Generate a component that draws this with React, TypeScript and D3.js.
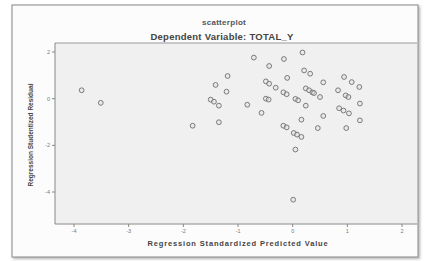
import React from "react";
import * as d3 from "d3";

// predicted values (x) and studentized residuals (y)
const predicted = [
  -3.86, -3.51, -0.71, -0.16, 0.18, -0.43, -1.19, 0.21, 0.32, -0.1,
  -0.49, -0.43, -0.31, 0.56, 0.94, 1.08, 1.22, -1.41, -1.21, 0.24,
  0.3, 0.36, 0.39, 0.5, 0.83, 0.97, 1.02, -0.17, -0.11, -0.49,
  -0.44, 0.05, 0.1, -1.5, -1.44, -1.35, -0.83, 0.24, 1.23, 0.85,
  0.93, 1.03, -0.57, 0.56, 0.16, 1.23, -1.35, -1.83, -0.17, -0.11,
  0.46, 0.98, 0.02, 0.08, 0.16, 0.05, 0.01,
];
const residuals = [
  0.36, -0.18, 1.76, 1.7, 1.98, 1.4, 0.97, 1.21, 1.07, 0.89,
  0.74, 0.64, 0.47, 0.7, 0.93, 0.71, 0.5, 0.59, 0.3, 0.44,
  0.36, 0.27, 0.24, 0.07, 0.36, 0.14, 0.07, 0.27, 0.19, 0.0,
  -0.04, -0.01, -0.07, -0.04, -0.13, -0.3, -0.26, -0.3, -0.21, -0.41,
  -0.51, -0.63, -0.61, -0.74, -0.9, -0.93, -1.01, -1.16, -1.16, -1.23,
  -1.26, -1.26, -1.47, -1.54, -1.64, -2.18, -4.33,
];

const xTicks = [-4, -3, -2, -1, 0, 1, 2];
const yTicks = [2, 0, -2, -4];

const title = "scatterplot";
const subtitle = "Dependent Variable: TOTAL_Y";
const xTitle = "Regression Standardized Predicted Value";
const yTitle = "Regression Studentized Residual";

const W = 424;
const H = 261;
const plot = { left: 55, top: 43, right: 417, bottom: 224 };

export default function App() {
  const x = d3.scaleLinear().domain([-4, 2]).range([74, 402]);
  const y = d3.scaleLinear().domain([2, -4]).range([52, 192]);

  const points = predicted.map((v, i) => ({ x: v, y: residuals[i] }));
  const font = "'Liberation Sans', Arial, sans-serif";

  return (
    <svg
      width={W}
      height={H}
      style={{ position: "absolute", left: 0, top: 0 }}
      fontFamily={font}
    >
      <defs>
        <filter id="shadow" x="-5%" y="-5%" width="110%" height="110%">
          <feDropShadow dx="1.5" dy="1.5" stdDeviation="1" floodColor="#999" floodOpacity="0.7" />
        </filter>
      </defs>
      <rect width={W} height={H} fill="#fff" />
      {/* outer frame */}
      <rect
        x={12}
        y={5}
        width={406}
        height={252}
        fill="#fcfcfc"
        stroke="#9a9a9a"
        strokeWidth={1.2}
        filter="url(#shadow)"
      />
      {/* plot area */}
      <rect
        x={plot.left}
        y={plot.top}
        width={plot.right - plot.left}
        height={plot.bottom - plot.top}
        fill="#f0f0f0"
      />
      <line x1={plot.left} x2={plot.right} y1={plot.top} y2={plot.top} stroke="#999" strokeWidth={1} />
      <line x1={plot.left} x2={plot.left} y1={plot.top} y2={plot.bottom} stroke="#888" strokeWidth={1} />
      <line x1={plot.left} x2={plot.right} y1={plot.bottom} y2={plot.bottom} stroke="#888" strokeWidth={1} />

      {/* y axis */}
      {yTicks.map((t) => (
        <g key={"y" + t}>
          <line x1={plot.left - 3} x2={plot.left} y1={y(t)} y2={y(t)} stroke="#888" />
          <text x={plot.left - 5} y={y(t)} dy="0.35em" textAnchor="end" fontSize={5.5} fill="#777">
            {t}
          </text>
        </g>
      ))}
      {/* x axis */}
      {xTicks.map((t) => (
        <g key={"x" + t}>
          <line x1={x(t)} x2={x(t)} y1={plot.bottom} y2={plot.bottom + 3} stroke="#888" />
          <text x={x(t)} y={plot.bottom + 9} textAnchor="middle" fontSize={5.5} fill="#777">
            {t}
          </text>
        </g>
      ))}

      {/* points */}
      {points.map((p, i) => (
        <circle
          key={i}
          cx={x(p.x)}
          cy={y(p.y)}
          r={2.4}
          fill="#e2e2e2"
          fillOpacity={0.5}
          stroke="#6e6e6e"
          strokeWidth={0.9}
        />
      ))}

      <text x={224} y={25} textAnchor="middle" fontSize={8} fontWeight="bold" fill="#555" letterSpacing={0.3}>
        {title}
      </text>
      <text x={222} y={40} textAnchor="middle" fontSize={9.5} fontWeight="bold" fill="#444" letterSpacing={0.25}>
        {subtitle}
      </text>
      <text
        x={238}
        y={246}
        textAnchor="middle"
        fontSize={7.5}
        fontWeight="bold"
        fill="#444"
        letterSpacing={0.85}
      >
        {xTitle}
      </text>
      <text
        transform={`translate(33,135) rotate(-90)`}
        textAnchor="middle"
        fontSize={6.5}
        fontWeight="bold"
        fill="#444"
      >
        {yTitle}
      </text>
    </svg>
  );
}
